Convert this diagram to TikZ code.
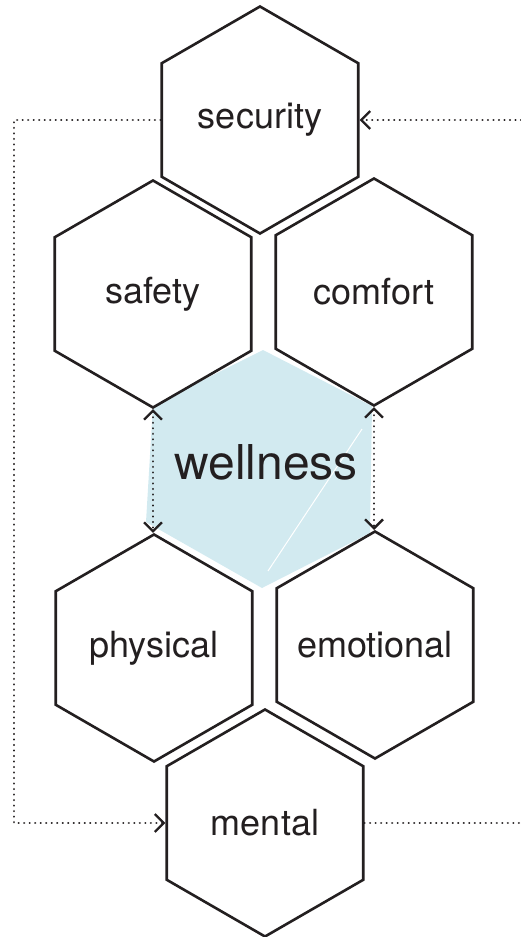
\documentclass[tikz,border=0pt]{standalone}
\usepackage{fontspec}
\setmainfont{TeX Gyre Heros}
\usetikzlibrary{arrows.meta,shapes.geometric}
\definecolor{ink}{RGB}{35,31,32}
\definecolor{wellblue}{RGB}{210,234,240}
\newcommand\hextext[1]{\makebox[0pt]{#1}}

\begin{document}
\begin{tikzpicture}[x=1pt,y=-1pt,>={Straight Barb[length=9pt,width=18pt]},
  hex node/.style={regular polygon,regular polygon sides=6,shape border rotate=30,
    minimum size=227pt,inner sep=0pt,draw=ink,line width=2.6pt,fill=white,
    text=ink,font=\fontsize{36}{40}\selectfont},
  dots/.style={draw=ink,line width=2.3pt,line cap=round,dash pattern=on 0.01pt off 5.5pt}]
  \useasboundingbox (0,0) rectangle (521,937);

  % blue patch behind the middle
  \fill[wellblue] (263,350) -- (372,406) -- (370,533) -- (262,588) -- (146,522) -- (153,405) -- cycle;
  \draw[white,line width=1pt] (362,429) -- (268,571);
  \node[text=ink,font=\fontsize{48}{52}\selectfont] (wellness) at (266,462) {wellness};

  \node[hex node] (security) at (260,120) {\hextext{security}};
  \node[hex node] (safety) at (153,294) {\hextext{safety}};
  \node[hex node] (comfort) at (374,292) {\hextext{comfort}};
  \node[hex node] (physical) at (154,648) {\hextext{physical}};
  \node[hex node] (emotional) at (375,645) {\hextext{emotional}};
  \node[hex node] (mental) at (265,823) {\hextext{mental}};

  \coordinate (turn) at (14,823);
  \coordinate (rim) at (521,0);

  \draw[dots,->] (security.west) -| (turn) -- (mental.west);
  \draw[dots,->] (security.east -| rim) -- (security.east);
  \draw[dots] (mental.east) -- (mental.east -| rim);
  \draw[dots,<->] (safety.south) -- (safety.south |- physical.north);
  \draw[dots,<->] (comfort.south) -- (comfort.south |- emotional.north);
\end{tikzpicture}
\end{document}
